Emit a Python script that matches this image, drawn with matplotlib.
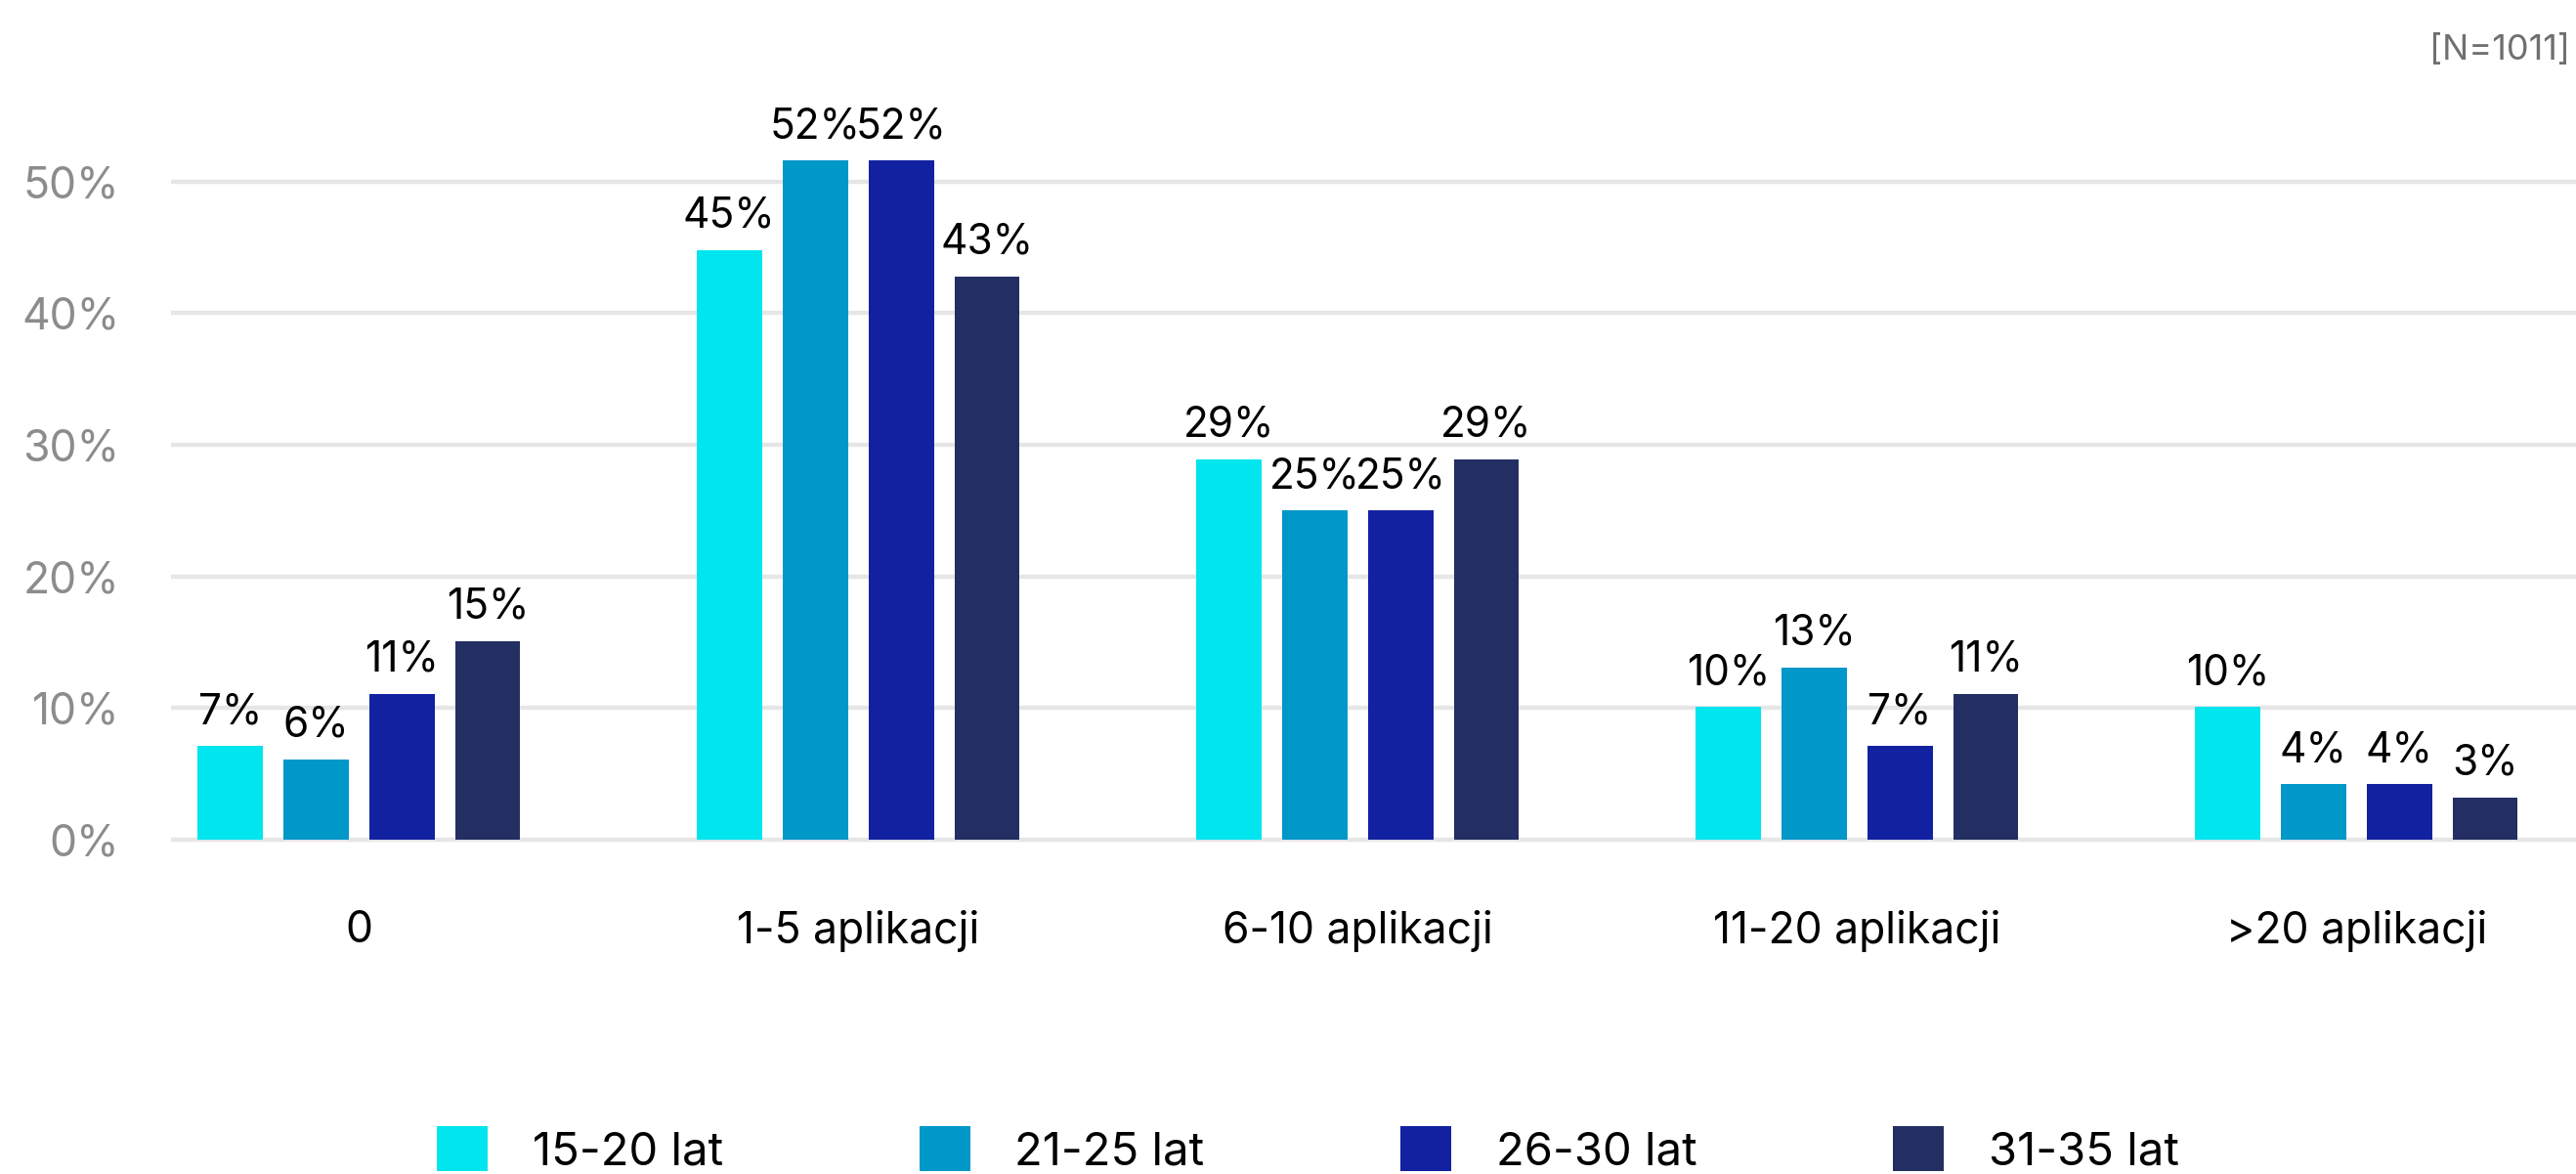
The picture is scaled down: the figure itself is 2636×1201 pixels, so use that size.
import numpy as np
import matplotlib
matplotlib.use("Agg")
import matplotlib.pyplot as plt

# dane
kategorie = ["0", "1-5 aplikacji", "6-10 aplikacji", "11-20 aplikacji", ">20 aplikacji"]
grupy = ["15-20 lat", "21-25 lat", "26-30 lat", "31-35 lat"]
wiek_15_20 = [7.1, 44.8, 28.9, 10.1, 10.1]
wiek_21_25 = [6.1, 51.6, 25.0, 13.1, 4.2]
wiek_26_30 = [11.1, 51.6, 25.0, 7.1, 4.2]
wiek_31_35 = [15.1, 42.8, 28.9, 11.1, 3.2]
kolory = ["#00e5ee", "#0097c9", "#1221a0", "#232e62"]
y_ticks = [0, 10, 20, 30, 40, 50]

plt.rcParams['font.family'] = ['Inter', 'DejaVu Sans']

W, H = 2636, 1201
fig = plt.figure(figsize=(W / 100, H / 100), dpi=100)
ax = fig.add_axes([175 / W, 1 - 880 / H, (W - 175) / W, 880 / H])

x = np.arange(len(kategorie))
pitch = 0.172
width = 0.131
serie = [wiek_15_20, wiek_21_25, wiek_26_30, wiek_31_35]

for i, (vals, nazwa, kol) in enumerate(zip(serie, grupy, kolory)):
    pos = x + (i - 1.5) * pitch
    ax.bar(pos, vals, width, color=kol, label=nazwa, zorder=2)
    # etykiety wartości nad słupkami
    for px, v in zip(pos, vals):
        ax.annotate(f"{round(v)}%", (px, v), xytext=(0, 16.5), textcoords='offset points',
                    ha='center', va='baseline', fontsize=30.5, color='black', zorder=3)

ax.set_xlim(-0.376, 4.44)
ax.set_ylim(-1.56, 63.8)
ax.set_yticks(y_ticks)
ax.set_yticklabels([f"{t}%" for t in y_ticks])
ax.set_xticks(x)
ax.set_xticklabels(kategorie)

ax.grid(axis='y', color='#e6e6e6', linewidth=3.2, zorder=1)
ax.set_axisbelow(True)
for s in ax.spines.values():
    s.set_visible(False)

ax.tick_params(axis='y', length=0, pad=38, labelsize=32, labelcolor='#8c8c8c')
ax.tick_params(axis='x', length=0, pad=37, labelsize=32, labelcolor='black')

fig.text(2630 / W, 1 - 52 / H, "[N=1011]", ha='right', va='center', fontsize=26, color='#707070')

fig.legend(loc='lower left', bbox_to_anchor=(447 / W, 0), ncol=4, frameon=False,
           fontsize=34, handlelength=1.1, handleheight=1.1, handletextpad=0.97,
           columnspacing=4.25, borderpad=0, borderaxespad=0)

fig.savefig("out.png", dpi=100)
